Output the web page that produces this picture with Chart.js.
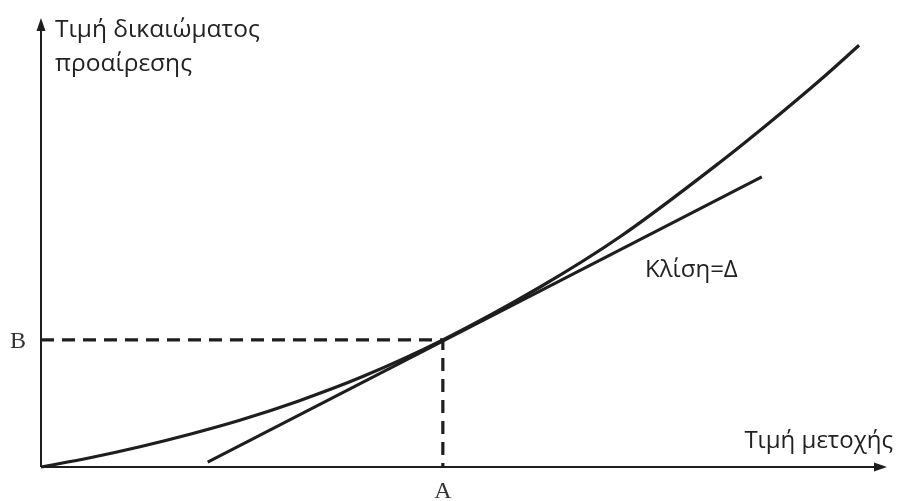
<!DOCTYPE html>
<html>
<head>
<meta charset="utf-8">
<script src="https://cdn.jsdelivr.net/npm/chart.js@4"></script>
<style>
  body { margin: 0; background: #fff; }
  #wrap { width: 898px; height: 501px; }
</style>
</head>
<body>
<div id="wrap"><canvas id="myChart"></canvas></div>
<script>
// Τιμή μετοχής (x) και τιμή δικαιώματος (y), σε σχετικές μονάδες 0-100
var curveX = [0, 5.8, 11.7, 17.6, 23.5, 30.3, 38.1, 47.5, 59.0, 68.4, 80.3, 86.2, 92.1, 96.7];
var curveY = [0, 2.07, 4.52, 7.31, 10.42, 14.61, 20.20, 28.3, 40.09, 51.22, 67.93, 76.84, 86.19, 93.92];

// εφαπτομένη στο σημείο (A, B)
var tangentX = [19.7, 85.2];
var tangentY = [1.1, 64.6];

var pointA = 47.5; // τιμή μετοχής
var pointB = 28.3; // τιμή δικαιώματος

var yTitle = ["Τιμή δικαιώματος", "προαίρεσης"];
var xTitle = "Τιμή μετοχής";
var slopeLabel = "Κλίση=Δ";
var slopeLabelPos = { x: 71.4, y: 42.3 };

function toPoints(xs, ys) {
    return xs.map(function(x, i) { return { x: x, y: ys[i] }; });
}

var ink = "#1e1e1e";

// άξονες με βέλη και ετικέτες
var axesPlugin = {
    id: "axesPlugin",
    afterDraw: function(chart) {
        var ctx = chart.ctx;
        var xs = chart.scales.x, ys = chart.scales.y;
        var x0 = xs.getPixelForValue(0), y0 = ys.getPixelForValue(0);
        var xEnd = xs.getPixelForValue(100), yEnd = ys.getPixelForValue(100);
        ctx.save();
        ctx.strokeStyle = ink;
        ctx.fillStyle = ink;
        ctx.lineWidth = 2;
        ctx.beginPath();
        ctx.moveTo(x0, y0); ctx.lineTo(xEnd - 6, y0);
        ctx.moveTo(x0, y0); ctx.lineTo(x0, yEnd + 6);
        ctx.stroke();
        // βέλος x
        ctx.beginPath();
        ctx.moveTo(xEnd, y0);
        ctx.lineTo(xEnd - 13, y0 - 4.5);
        ctx.lineTo(xEnd - 13, y0 + 4.5);
        ctx.closePath();
        ctx.fill();
        // βέλος y
        ctx.beginPath();
        ctx.moveTo(x0, yEnd);
        ctx.lineTo(x0 - 4.5, yEnd + 13);
        ctx.lineTo(x0 + 4.5, yEnd + 13);
        ctx.closePath();
        ctx.fill();

        ctx.fillStyle = "#222";
        ctx.textBaseline = "alphabetic";
        ctx.font = "24.5px 'Open Sans'";
        ctx.textAlign = "left";
        ctx.fillText(yTitle[0], x0 + 14, yEnd + 19);
        ctx.fillText(yTitle[1], x0 + 14, yEnd + 53);
        ctx.font = "24px 'Open Sans'";
        ctx.textAlign = "right";
        ctx.fillText(xTitle, xEnd + 6, y0 - 19);
        ctx.textAlign = "left";
        ctx.fillText(slopeLabel, xs.getPixelForValue(slopeLabelPos.x), ys.getPixelForValue(slopeLabelPos.y));

        ctx.font = "24px 'Liberation Serif'";
        ctx.fillStyle = "#333";
        ctx.textAlign = "center";
        ctx.fillText("B", 18, ys.getPixelForValue(pointB) + 8);
        ctx.fillText("A", xs.getPixelForValue(pointA), y0 + 31);
        ctx.restore();
    }
};

var ctx = document.getElementById("myChart").getContext("2d");
var myChart = new Chart(ctx, {
    type: "scatter",
    data: {
        datasets: [
            {
                data: toPoints(curveX, curveY),
                showLine: true,
                borderColor: ink,
                borderWidth: 3.2,
                pointRadius: 0,
                cubicInterpolationMode: "monotone",
                clip: false
            },
            {
                data: toPoints(tangentX, tangentY),
                showLine: true,
                borderColor: ink,
                borderWidth: 3,
                pointRadius: 0,
                clip: false
            },
            {
                data: [{ x: 0, y: pointB }, { x: pointA, y: pointB }, { x: pointA, y: 0 }],
                showLine: true,
                borderColor: ink,
                borderWidth: 3.2,
                borderDash: [13, 8],
                pointRadius: 0,
                clip: false
            }
        ]
    },
    options: {
        responsive: true,
        maintainAspectRatio: false,
        animation: false,
        layout: { padding: { left: 41, right: 11, top: 18, bottom: 34 } },
        scales: {
            x: { type: "linear", min: 0, max: 100, display: false },
            y: { type: "linear", min: 0, max: 100, display: false }
        },
        plugins: {
            legend: { display: false },
            tooltip: { enabled: false }
        }
    },
    plugins: [axesPlugin]
});
</script>
</body>
</html>
